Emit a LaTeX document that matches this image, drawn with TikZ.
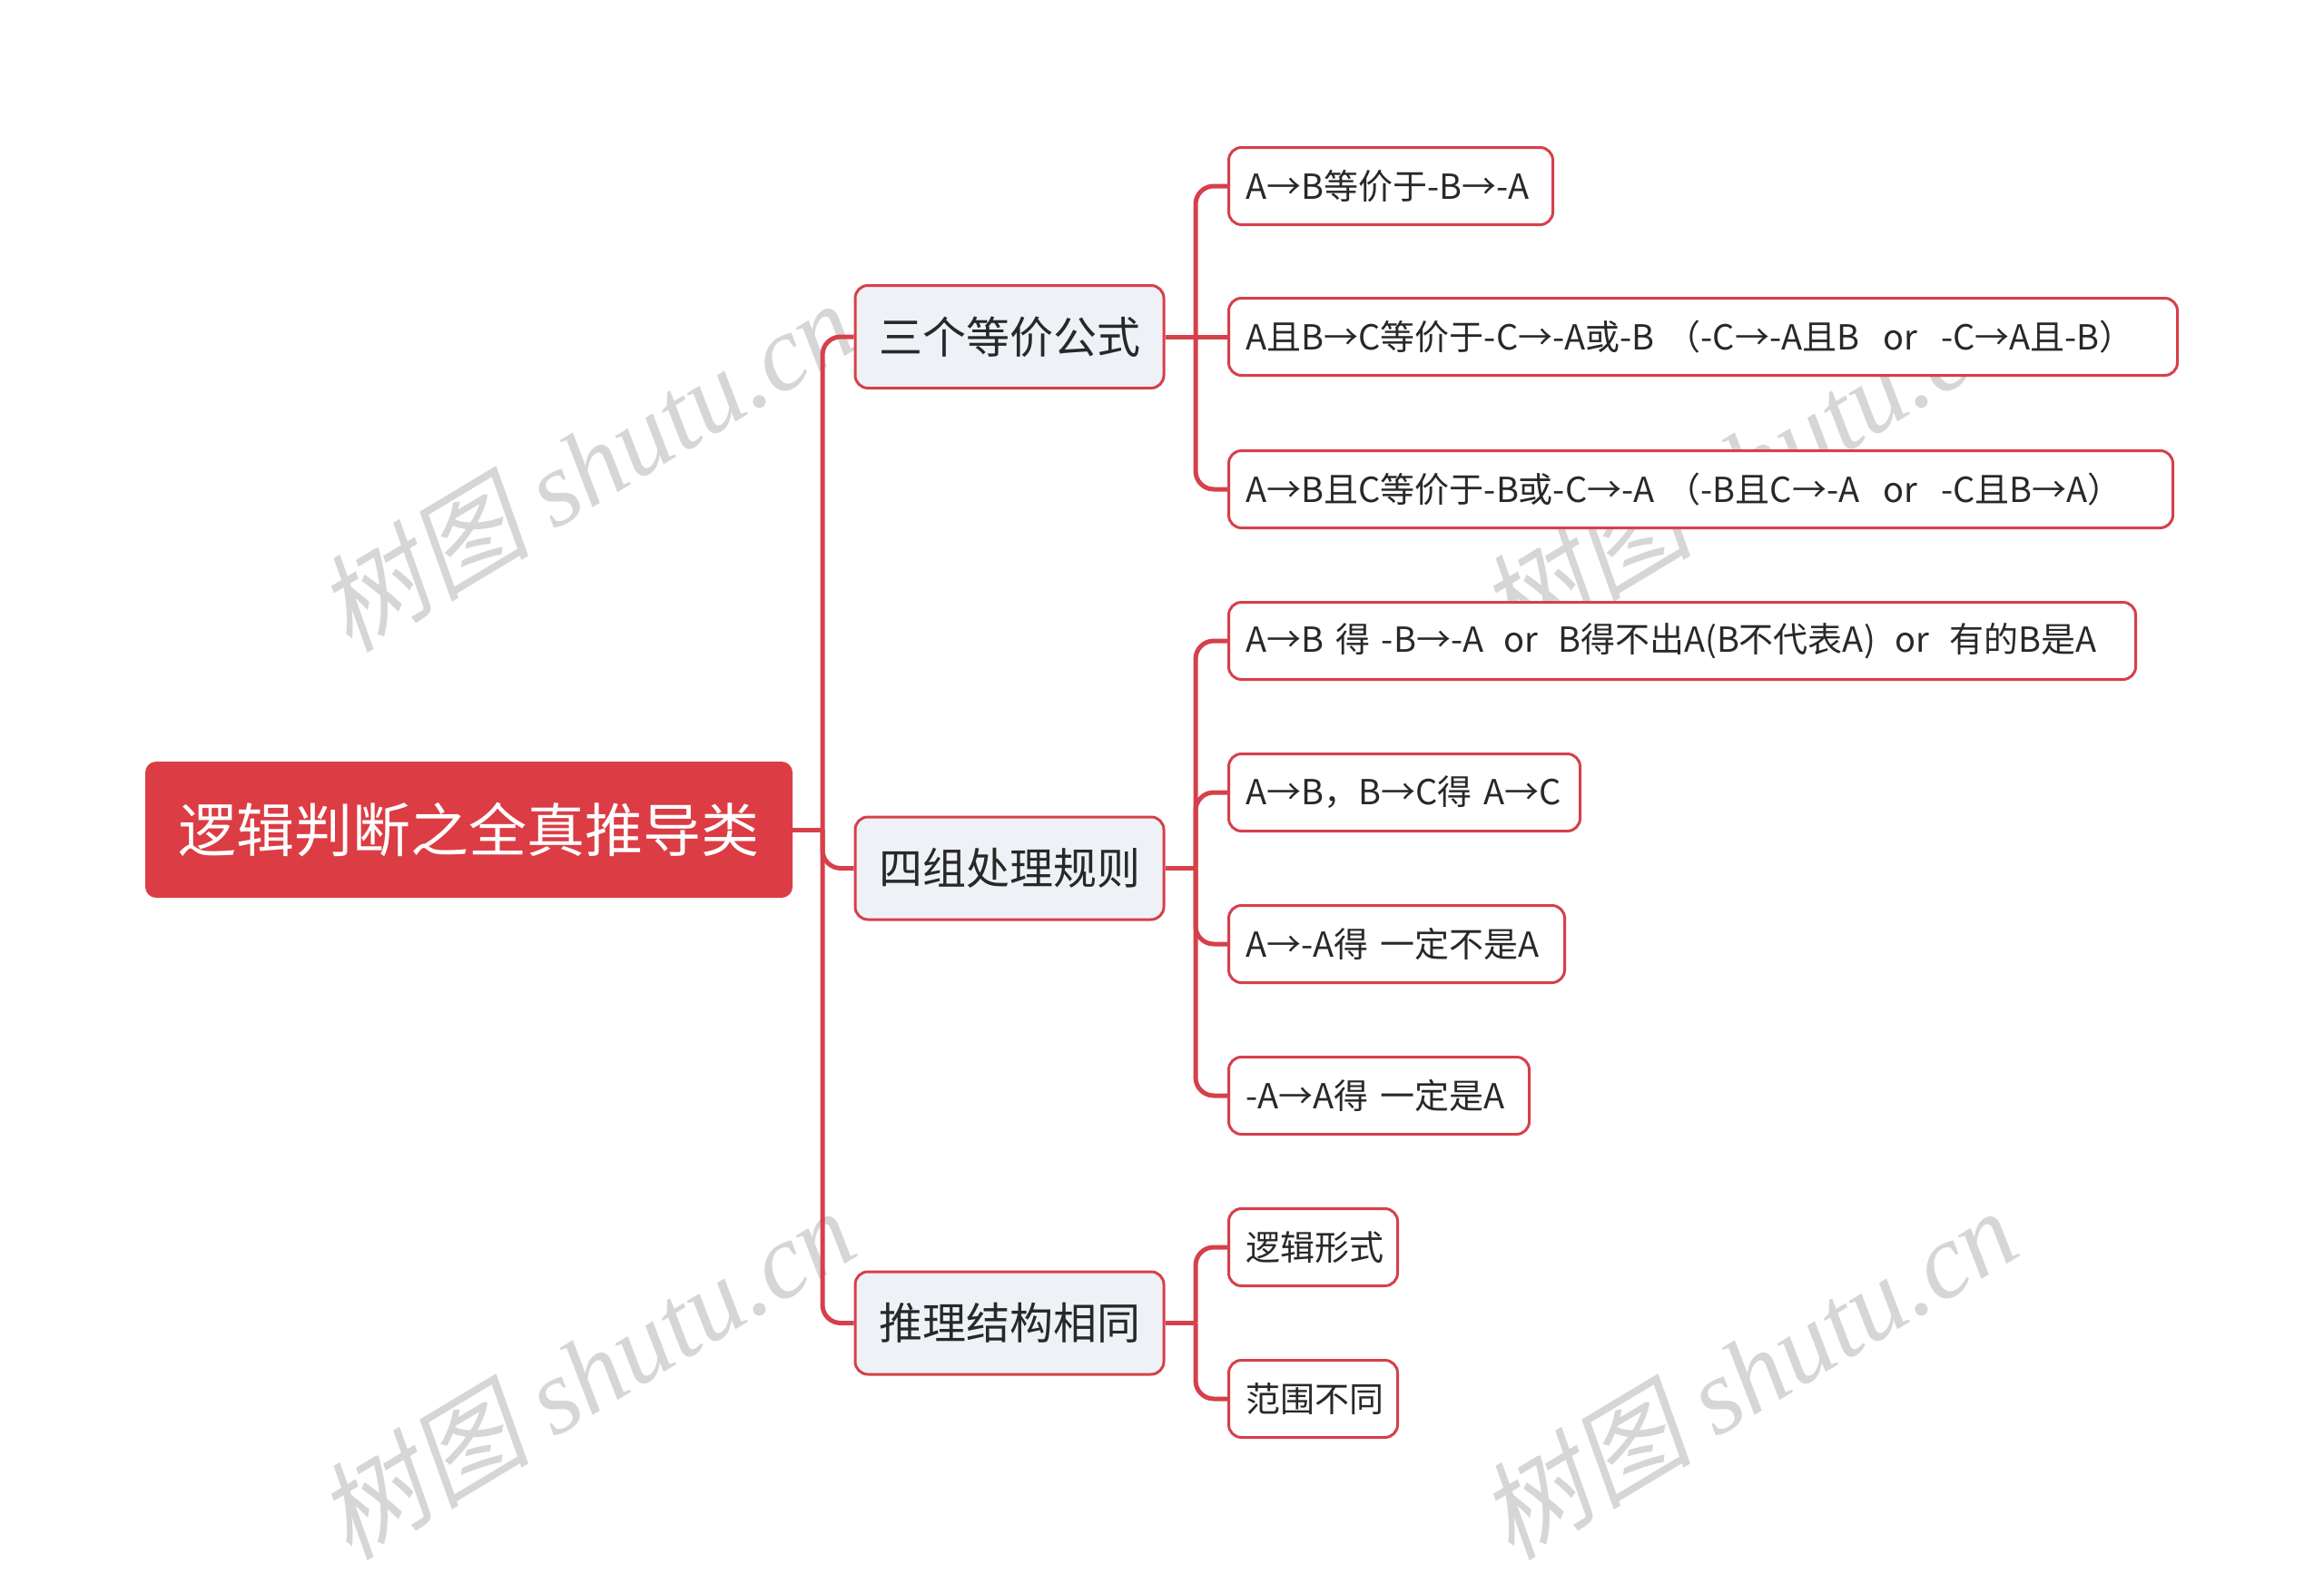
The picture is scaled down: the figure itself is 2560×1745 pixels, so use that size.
\documentclass[tikz,border=0pt]{standalone}
\usepackage{fontspec}
\setmainfont{Noto Sans CJK SC}
\newfontfamily\wmlatin{Liberation Serif}
\newfontfamily\wmcjk[FakeSlant=0.2]{Noto Sans CJK SC}
\definecolor{linered}{RGB}{214,64,74}
\definecolor{rootred}{RGB}{220,60,68}
\definecolor{midfill}{RGB}{238,241,245}
\definecolor{txt}{RGB}{40,40,40}
\definecolor{wmgray}{RGB}{214,214,214}
\tikzset{
  rootbox/.style={rectangle, rounded corners=12pt, fill=rootred, text=white,
    minimum width=713pt, minimum height=150pt, inner sep=0pt,
    font=\fontsize{64}{72}\selectfont},
  midbox/.style={rectangle, rounded corners=14pt, fill=midfill, draw=linered,
    line width=3pt, text=txt, minimum width=340pt, minimum height=113pt, inner sep=0pt,
    font=\fontsize{48}{56}\selectfont},
  leafbox/.style={rectangle, rounded corners=14pt, fill=white, draw=linered,
    line width=3pt, text=txt, minimum height=85pt, inner xsep=19pt, inner ysep=0pt,
    anchor=west, align=left, font=\fontsize{38}{44}\selectfont},
  conn/.style={draw=linered, line width=5pt, rounded corners=20pt},
  wm/.style={text=wmgray, rotate=31, inner sep=0pt, font=\fontsize{118}{124}\selectfont}
}
\newcommand{\gapsp}{\hspace{13pt}}
\newcommand{\gapsm}{\hspace{11pt}}
\begin{document}
\begin{tikzpicture}[x=1pt,y=-1pt]
\useasboundingbox (0,0) rectangle (2560,1745);
% watermarks
\node[wm] (w1) at (645,512) {{\wmcjk 树图} {\wmlatin\itshape shutu.cn}};
\node[wm] (w2) at (1925,512) {{\wmcjk 树图} {\wmlatin\itshape shutu.cn}};
\node[wm] (w3) at (645,1512) {{\wmcjk 树图} {\wmlatin\itshape shutu.cn}};
\node[wm] (w4) at (1925,1512) {{\wmcjk 树图} {\wmlatin\itshape shutu.cn}};
% nodes
\node[rootbox] (root) at (516.5,914) {逻辑判断之全真推导类};
\node[midbox] (m1) at (1112,371) {三个等价公式};
\node[midbox] (m2) at (1112,956.5) {四组处理规则};
\node[midbox] (m3) at (1112,1457.5) {推理结构相同};
\node[leafbox, text width=319pt] (l1) at (1352,205) {A→B等价于-B→-A};
\node[leafbox, text width=1007pt] (l2) at (1352,371) {A且B→C等价于-C→-A或-B\gapsp（-C→-A且B\gapsp\gapsp or\gapsp\gapsp-C→A且-B）};
\node[leafbox, text width=1002pt] (l3) at (1352,539) {A→B且C等价于-B或-C→-A\gapsp（-B且C→-A\gapsp\gapsp or\gapsp\gapsp-C且B→A）};
\node[leafbox, text width=961pt] (l4) at (1352,706) {A→B 得 -B→-A\gapsm\gapsm or\gapsm\gapsm B得不出A(B不代表A)\gapsm\gapsm or\gapsm\gapsm 有的B是A};
\node[leafbox, text width=349pt] (l5) at (1352,873) {A→B，B→C得 A→C};
\node[leafbox, text width=332pt] (l6) at (1352,1040) {A→-A得 一定不是A};
\node[leafbox, text width=293pt] (l7) at (1352,1207) {-A→A得 一定是A};
\node[leafbox, text width=148pt] (l8) at (1352,1374) {逻辑形式};
\node[leafbox, text width=148pt] (l9) at (1352,1541) {范围不同};
% junctions
\coordinate (j0) at (906,914);
\coordinate (j1) at (1317,371);
\coordinate (j2) at (1317,956.5);
\coordinate (j3) at (1317,1457.5);
% connectors
\draw[conn] (root.east) -- (j0);
\draw[conn] (j0) |- (m1.west);
\draw[conn] (j0) |- (m2.west);
\draw[conn] (j0) |- (m3.west);
\draw[conn] (m1.east) -- (j1);
\draw[conn] (j1) |- (l1.west);
\draw[conn] (j1) -- (l2.west);
\draw[conn] (j1) |- (l3.west);
\draw[conn] (m2.east) -- (j2);
\draw[conn] (j2) |- (l4.west);
\draw[conn] (j2) |- (l5.west);
\draw[conn] (j2) |- (l6.west);
\draw[conn] (j2) |- (l7.west);
\draw[conn] (m3.east) -- (j3);
\draw[conn] (j3) |- (l8.west);
\draw[conn] (j3) |- (l9.west);
\end{tikzpicture}
\end{document}
